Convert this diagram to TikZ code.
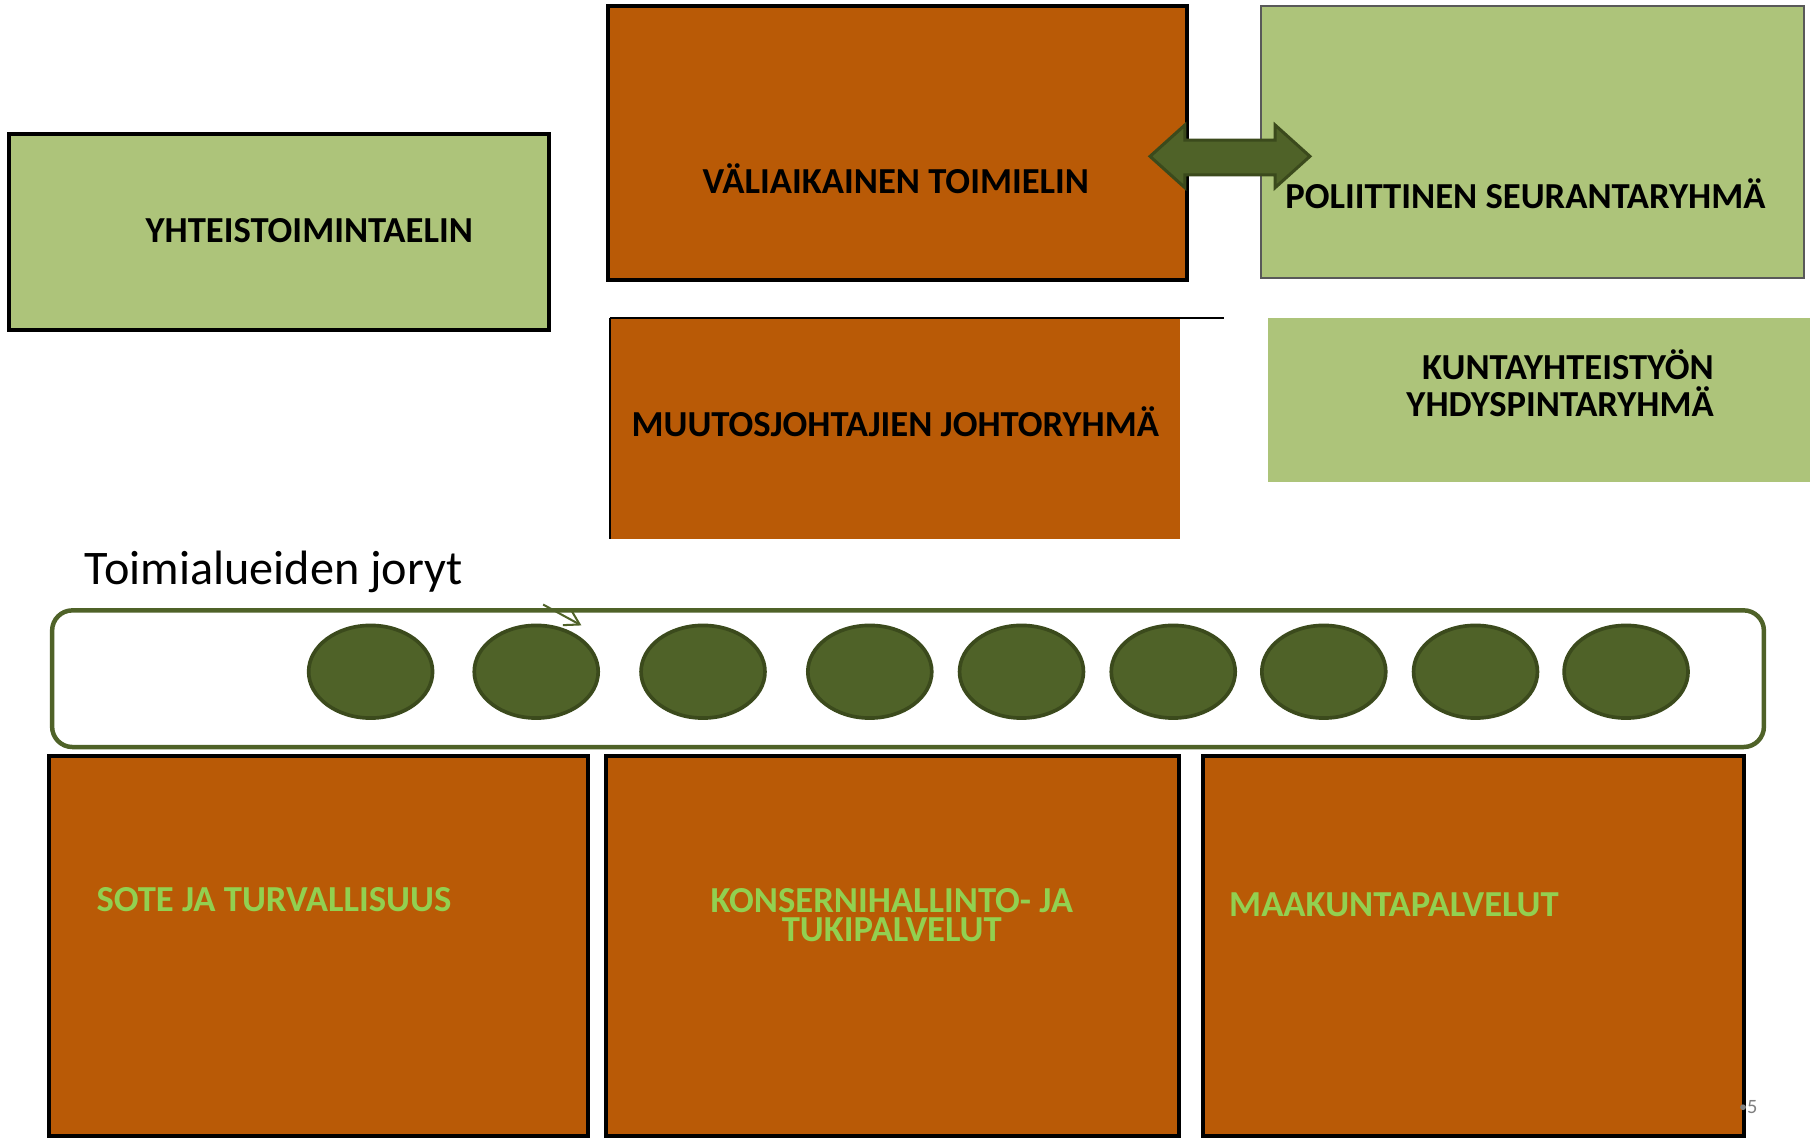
\documentclass[tikz,border=0pt]{standalone}
\usepackage{fontspec}
\setmainfont{Carlito}
\usetikzlibrary{shapes.geometric,arrows.meta}

\definecolor{orgfill}{HTML}{B95A06}
\definecolor{grnfill}{HTML}{ADC47A}
\definecolor{darkgrn}{HTML}{4F6228}
\definecolor{edgegrn}{HTML}{3B4A1C}
\definecolor{txtgrn}{HTML}{92D050}

\tikzset{
  orgbox/.style={rectangle, fill=orgfill, draw=black, line width=2pt, inner sep=0pt},
  grnbox/.style={rectangle, fill=grnfill, inner sep=0pt},
  title/.style={font=\fontsize{18}{18}\selectfont\bfseries, inner sep=0pt},
  ball/.style={ellipse, fill=darkgrn, draw=edgegrn, line width=1.8pt,
    minimum width=2.14cm, minimum height=1.60cm, inner sep=0pt}
}

\begin{document}
\begin{tikzpicture}

\useasboundingbox (0,0) rectangle (31.36,-19.66);

% top row
\node[grnbox, draw=black, line width=2pt, minimum width=9.32cm, minimum height=3.38cm] (yht) at (4.82,-4.01) {};
\node[orgbox, minimum width=10.00cm, minimum height=4.74cm] (vali) at (15.50,-2.47) {};
\node[grnbox, draw=black!65, line width=1pt, minimum width=9.38cm, minimum height=4.70cm] (pol) at (26.47,-2.45) {};

\node[title, anchor=base] (yhtT) at (5.34,-4.18) {YHTEISTOIMINTAELIN};
\node[title, anchor=base] (valiT) at (15.47,-3.34) {VÄLIAIKAINEN TOIMIELIN};
\node[title, anchor=base] (polT) at (26.34,-3.60) {POLIITTINEN SEURANTARYHMÄ};

% second row
\node[rectangle, fill=orgfill, inner sep=0pt, minimum width=9.84cm, minimum height=3.80cm] (muut) at (15.46,-7.40) {};
\draw[line width=1.2pt] (muut.north west) -- ++(10.60,0);
\draw[line width=0.6pt] (muut.north west) -- (muut.south west);
\node[grnbox, minimum width=9.36cm, minimum height=2.82cm] (kunta) at (26.58,-6.91) {};

\node[title, anchor=base] (muutT) at (15.46,-7.54) {MUUTOSJOHTAJIEN JOHTORYHMÄ};
\node[title, anchor=east, align=right] (kuntaT) at (29.60,-6.62) {KUNTAYHTEISTYÖN\\YHDYSPINTARYHMÄ};

% double arrow
\coordinate (arrL) at (19.86,-2.70);
\coordinate (arrR) at (22.62,-2.70);
\draw[fill=darkgrn, draw=edgegrn, line width=1.5pt, line join=miter]
  (arrL) -- ++(0.60,0.54) -- ++(0,-0.26) -- ++(1.56,0) -- ++(0,0.26) -- (arrR)
  -- ++(-0.60,-0.54) -- ++(0,0.22) -- ++(-1.56,0) -- ++(0,-0.22) -- cycle;

% toimialueet
\node[anchor=base west, inner sep=0pt, font=\fontsize{23.7}{23.7}\selectfont] (jor) at (1.46,-10.10) {Toimialueiden joryt};
\node[rectangle, draw=darkgrn, fill=white, line width=2.2pt, rounded corners=0.35cm,
  minimum width=29.56cm, minimum height=2.36cm] (band) at (15.68,-11.72) {};

\foreach \x [count=\i] in {6.40,9.26,12.14,15.02,17.64,20.26,22.86,25.48,28.08} {
  \node[ball] (b\i) at (\x,-11.60) {};
}

\coordinate (sa) at (9.38,-10.44);
\coordinate (sb) at (10.04,-10.80);
\draw[darkgrn, line width=1pt, -{Straight Barb[length=0.25cm,width=0.3cm]}] (sa) -- (sb);

% bottom row
\node[orgbox, minimum width=9.32cm, minimum height=6.56cm] (sote) at (5.50,-16.34) {};
\node[orgbox, minimum width=9.90cm, minimum height=6.56cm] (kons) at (15.41,-16.34) {};
\node[orgbox, minimum width=9.34cm, minimum height=6.56cm] (maak) at (25.45,-16.34) {};

\node[title, text=txtgrn, anchor=base west] (soteT) at (1.66,-15.74) {SOTE JA TURVALLISUUS};
\node[title, text=txtgrn, align=center, font=\fontsize{18}{14}\selectfont\bfseries] (konsT) at (15.40,-15.80) {KONSERNIHALLINTO- JA\\TUKIPALVELUT};
\node[title, text=txtgrn, anchor=base west] (maakT) at (21.22,-15.82) {MAAKUNTAPALVELUT};

% page number
\fill[gray] (30.10,-19.12) circle (0.05);
\node[text=gray, font=\fontsize{10}{10}\selectfont, inner sep=0pt] (pg) at (30.26,-19.12) {5};

\end{tikzpicture}
\end{document}
